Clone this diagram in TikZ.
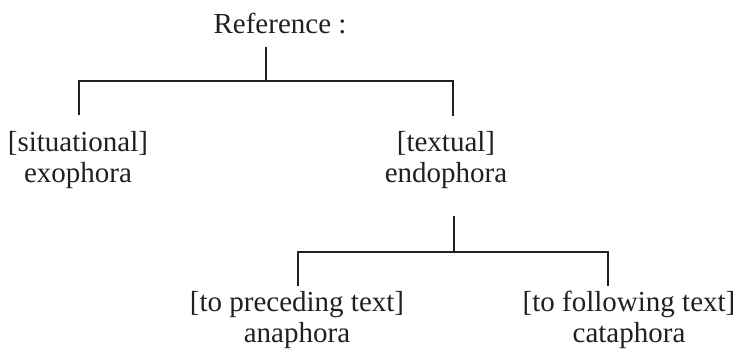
\documentclass[tikz,border=0pt]{standalone}
\usepackage{fontspec}
\setmainfont{Liberation Serif}
\usepackage{tikz}
\usetikzlibrary{positioning}

\definecolor{ink}{RGB}{35,31,32}

\begin{document}
\begin{tikzpicture}[x=1pt,y=-1pt,
    lbl/.style={font=\fontsize{29}{31}\selectfont,align=center,inner sep=0pt,anchor=base,text=ink},
    branch/.style={draw=ink,line width=1.3pt}]
  \useasboundingbox (0,0) rectangle (739,351);
  % labels
  \node[lbl] (ref)  at (280,33)  {Reference :};
  \node[lbl] (exo)  at (78,182)  {[situational]\\exophora};
  \node[lbl] (endo) at (446,182) {[textual]\\endophora};
  \node[lbl] (ana)  at (297,342) {[to preceding text]\\anaphora};
  \node[lbl] (cata) at (629,342) {[to following text]\\cataphora};
  % first split
  \coordinate (r0) at (266,47);
  \coordinate (r1) at (266,81);
  \coordinate (l1) at (79,81);
  \coordinate (l2) at (79,115);
  \coordinate (t1) at (453,81);
  \coordinate (t2) at (453,116);
  \draw[branch] (r0) -- (r1);
  \draw[branch] (l2) -- (l1) -- (t1) -- (t2);
  % second split
  \coordinate (s0) at (454,216);
  \coordinate (s1) at (454,252);
  \coordinate (a1) at (298,252);
  \coordinate (a2) at (298,286);
  \coordinate (c1) at (608,252);
  \coordinate (c2) at (608,286);
  \draw[branch] (s0) -- (s1);
  \draw[branch] (a2) -- (a1) -- (c1) -- (c2);
\end{tikzpicture}
\end{document}
